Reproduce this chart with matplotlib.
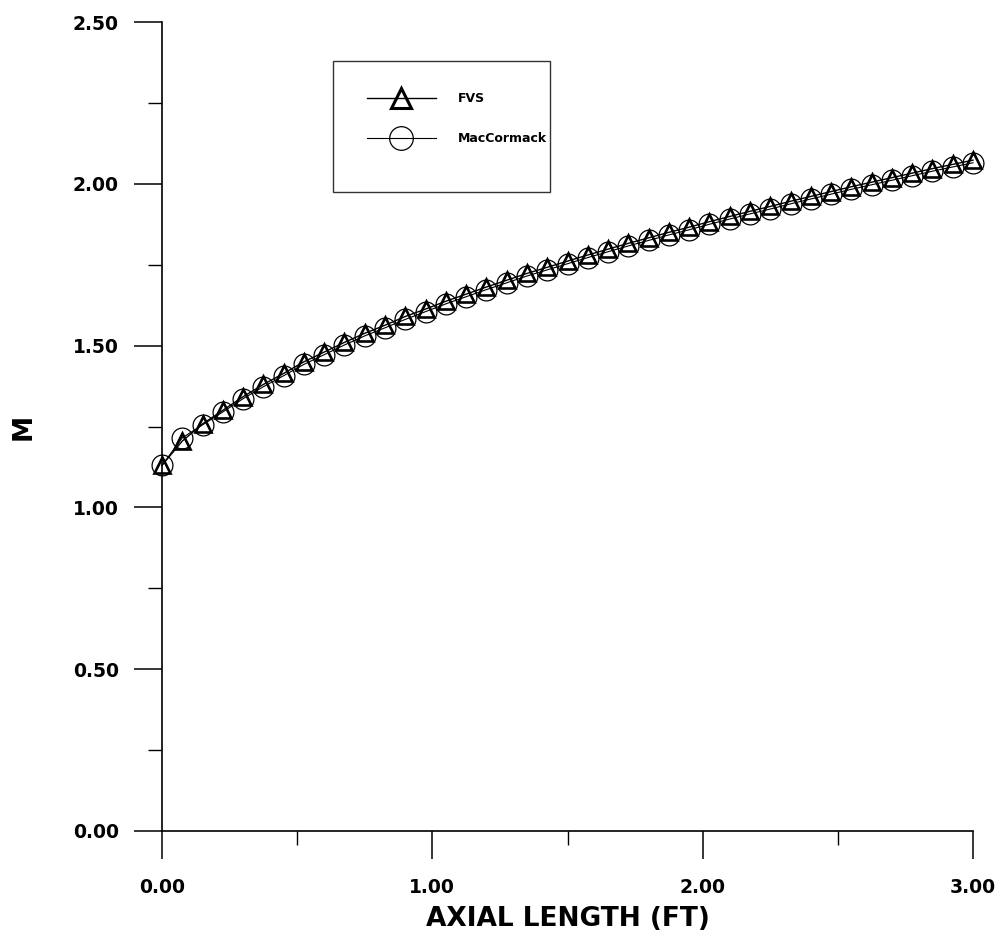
import numpy as np
import matplotlib
matplotlib.use("Agg")
import matplotlib.pyplot as plt
from matplotlib.patches import Rectangle
from matplotlib.ticker import MultipleLocator, FormatStrFormatter

plt.rcParams['font.family'] = ['DejaVu Sans']

# Axial stations (ft)
x_ft = np.linspace(0.0, 3.0, 41)

# Mach number along the nozzle, flux-vector-splitting scheme
mach_fvs = [1.130, 1.205, 1.258, 1.300, 1.342, 1.380, 1.414, 1.450, 1.480, 1.510,
            1.538, 1.563, 1.590, 1.613, 1.637, 1.659, 1.681, 1.702, 1.723, 1.742,
            1.761, 1.780, 1.798, 1.816, 1.833, 1.850, 1.866, 1.883, 1.899, 1.915,
            1.930, 1.946, 1.961, 1.976, 1.991, 2.005, 2.019, 2.033, 2.047, 2.060,
            2.073]

# Mach number along the nozzle, MacCormack scheme
mach_mac = [1.130, 1.215, 1.255, 1.295, 1.336, 1.373, 1.407, 1.442, 1.472, 1.502,
            1.530, 1.555, 1.581, 1.605, 1.629, 1.651, 1.673, 1.694, 1.715, 1.734,
            1.753, 1.772, 1.790, 1.808, 1.825, 1.842, 1.858, 1.875, 1.891, 1.907,
            1.922, 1.938, 1.953, 1.968, 1.983, 1.997, 2.011, 2.025, 2.039, 2.052,
            2.065]

series_labels = ["FVS", "MacCormack"]

W, H = 1001, 934
fig = plt.figure(figsize=(W / 100, H / 100), dpi=100)
ax = fig.add_axes([162 / W, 1 - 831 / H, (973 - 162) / W, (831 - 22) / H])

ax.plot(x_ft, mach_fvs, color='black', lw=1.0, marker='^', ms=11.5,
        mfc='none', mec='black', mew=1.9, label=series_labels[0],
        zorder=3, clip_on=False)
ax.plot(x_ft, mach_mac, color='black', lw=0.8, marker='o', ms=15,
        mfc='none', mec='black', mew=0.9, label=series_labels[1],
        zorder=2, clip_on=False)

ax.set_xlim(0, 3)
ax.set_ylim(0, 2.5)

for side in ('top', 'right'):
    ax.spines[side].set_visible(False)
for side in ('left', 'bottom'):
    ax.spines[side].set_linewidth(1.2)

ax.xaxis.set_major_locator(MultipleLocator(1.0))
ax.xaxis.set_minor_locator(MultipleLocator(0.5))
ax.yaxis.set_major_locator(MultipleLocator(0.5))
ax.yaxis.set_minor_locator(MultipleLocator(0.25))
ax.xaxis.set_major_formatter(FormatStrFormatter('%.2f'))
ax.yaxis.set_major_formatter(FormatStrFormatter('%.2f'))

ax.tick_params(which='major', direction='out', length=20, width=1.1,
               labelsize=13.5, pad=11)
ax.tick_params(which='minor', direction='out', length=10, width=1.0)
ax.tick_params(axis='x', which='major', pad=14)
for lbl in ax.get_xticklabels() + ax.get_yticklabels():
    lbl.set_fontweight('bold')

ax.set_xlabel("AXIAL LENGTH (FT)", fontsize=19, fontweight='bold', labelpad=6)
ax.set_ylabel("M", fontsize=19, fontweight='bold', labelpad=26)

# Legend frame and entries
fig.patches.append(Rectangle((333 / W, 1 - 192 / H), (550 - 333) / W, (192 - 61) / H,
                             transform=fig.transFigure, fill=False,
                             edgecolor='#333333', lw=1.0))
leg = fig.legend(loc='upper left', bbox_to_anchor=(367 / W, 1 - 92 / H),
                 frameon=False, handlelength=5.5, handletextpad=1.8,
                 labelspacing=2.2, borderpad=0, borderaxespad=0,
                 prop={'weight': 'bold', 'size': 9})
leg.legend_handles[0].set_markersize(15)
leg.legend_handles[0].set_markeredgewidth(2.2)
leg.legend_handles[1].set_markersize(17)

fig.savefig("out.png", dpi=100)
